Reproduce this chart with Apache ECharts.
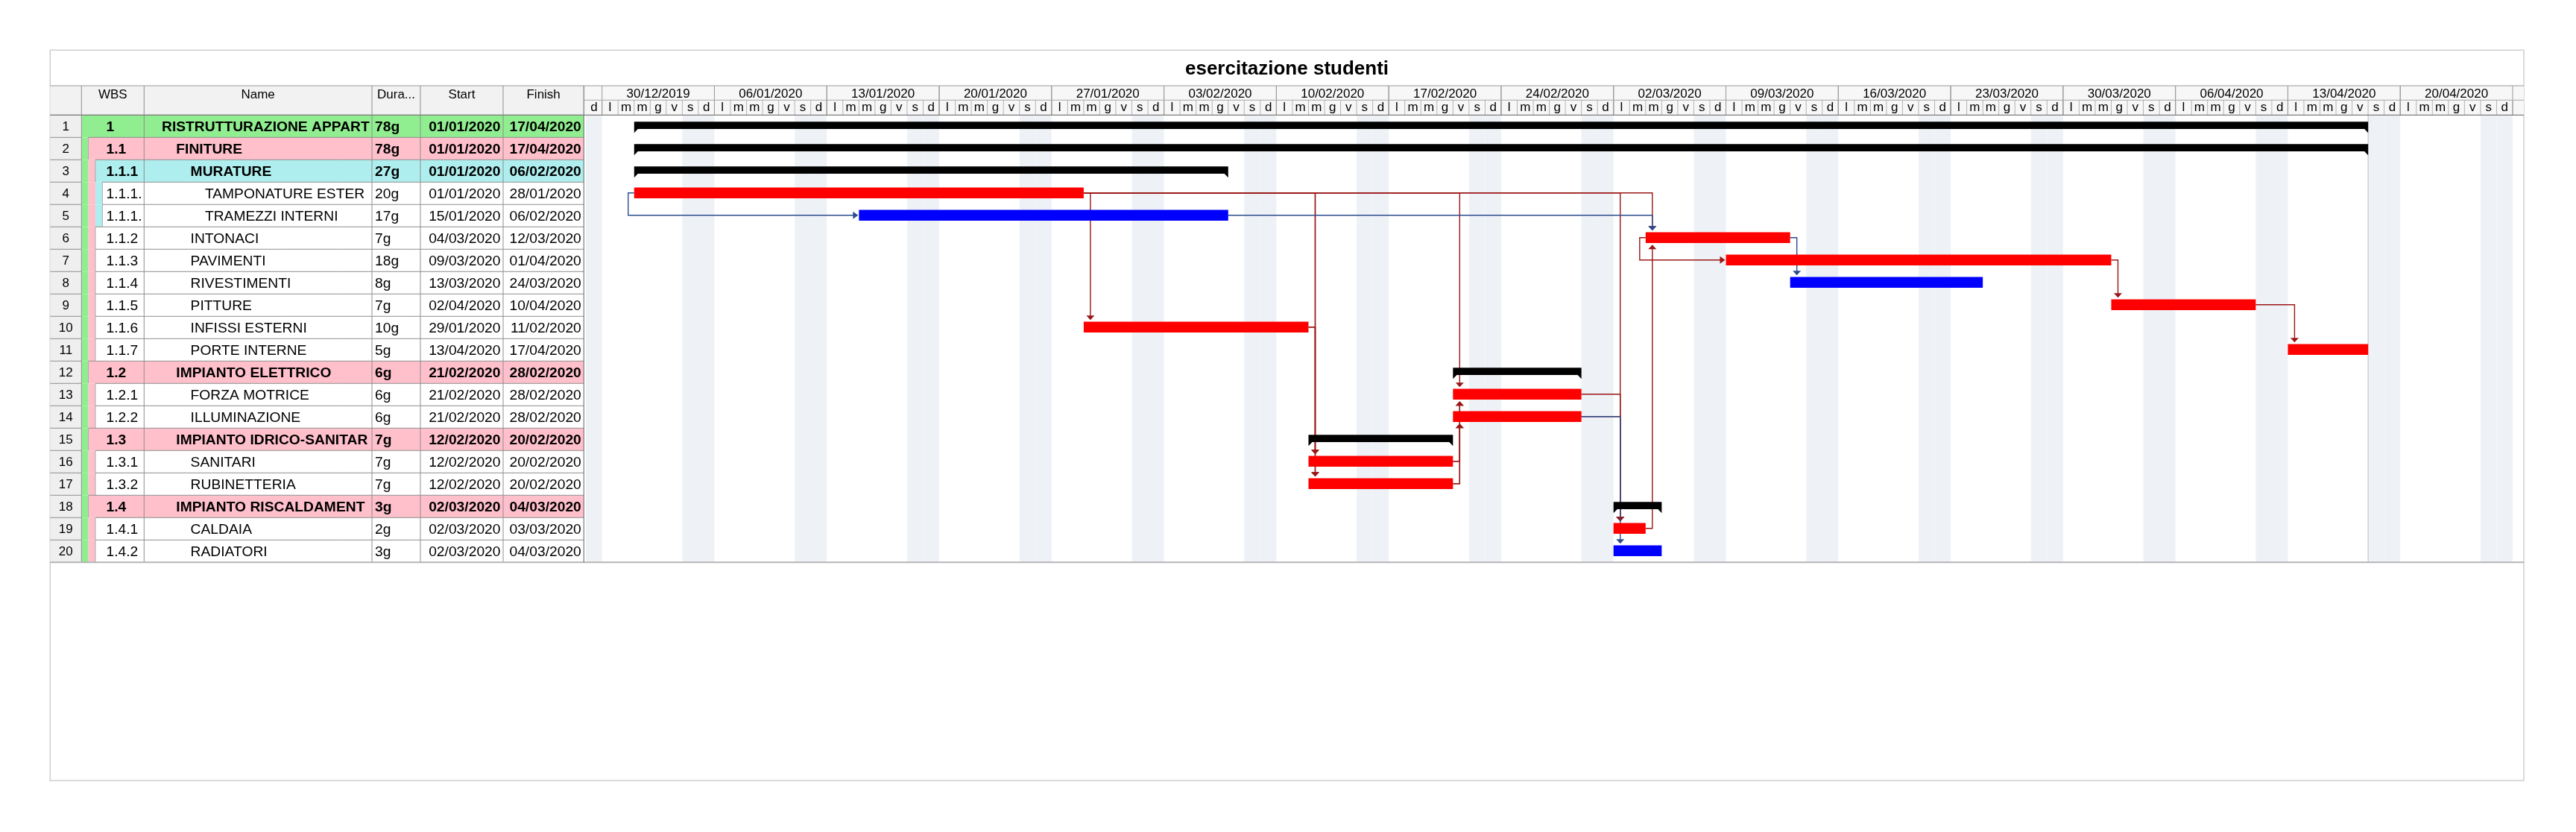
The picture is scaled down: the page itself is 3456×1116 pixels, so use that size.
<!DOCTYPE html>
<html>
<head>
<meta charset="utf-8">
<script src="https://cdn.jsdelivr.net/npm/echarts@6/dist/echarts.min.js"></script>
<style>html,body{margin:0;padding:0;background:#fff}#c{width:3456px;height:1116px}</style>
</head>
<body>
<div id="c"></div>
<script>
// ---------------- DATA ----------------
const chartTitle = 'esercitazione studenti';
const columnHeaders = ['WBS', 'Name', 'Dura...', 'Start', 'Finish'];
const wbsCodes = ['1','1.1','1.1.1','1.1.1.1','1.1.1.2','1.1.2','1.1.3','1.1.4','1.1.5','1.1.6','1.1.7','1.2','1.2.1','1.2.2','1.3','1.3.1','1.3.2','1.4','1.4.1','1.4.2'];
const taskNames = ['RISTRUTTURAZIONE APPARTAMENTO','FINITURE','MURATURE','TAMPONATURE ESTERNE','TRAMEZZI INTERNI','INTONACI','PAVIMENTI','RIVESTIMENTI','PITTURE','INFISSI ESTERNI','PORTE INTERNE','IMPIANTO ELETTRICO','FORZA MOTRICE','ILLUMINAZIONE','IMPIANTO IDRICO-SANITARIO','SANITARI','RUBINETTERIA','IMPIANTO RISCALDAMENTO','CALDAIA','RADIATORI'];
const outlineLevels = [1,2,3,4,4,3,3,3,3,3,3,2,3,3,2,3,3,2,3,3];
const durations = ['78g','78g','27g','20g','17g','7g','18g','8g','7g','10g','5g','6g','6g','6g','7g','7g','7g','3g','2g','3g'];
const startDates = ['01/01/2020','01/01/2020','01/01/2020','01/01/2020','15/01/2020','04/03/2020','09/03/2020','13/03/2020','02/04/2020','29/01/2020','13/04/2020','21/02/2020','21/02/2020','21/02/2020','12/02/2020','12/02/2020','12/02/2020','02/03/2020','02/03/2020','02/03/2020'];
const finishDates = ['17/04/2020','17/04/2020','06/02/2020','28/01/2020','06/02/2020','12/03/2020','01/04/2020','24/03/2020','10/04/2020','11/02/2020','17/04/2020','28/02/2020','28/02/2020','28/02/2020','20/02/2020','20/02/2020','20/02/2020','04/03/2020','03/03/2020','04/03/2020'];
const taskKinds = ['summary','summary','summary','critical','normal','critical','critical','normal','critical','critical','critical','summary','critical','critical','summary','critical','critical','summary','critical','normal'];
const weekLabels = ['30/12/2019','06/01/2020','13/01/2020','20/01/2020','27/01/2020','03/02/2020','10/02/2020','17/02/2020','24/02/2020','02/03/2020','09/03/2020','16/03/2020','23/03/2020','30/03/2020','06/04/2020','13/04/2020','20/04/2020'];
const dayLetters = ['l','m','m','g','v','s','d'];
// [predecessor row, successor row, link type, critical]
const links = [
  [4,5,'SS',false],[4,10,'FS',true],[4,16,'FS',true],[4,17,'FS',true],[4,13,'FS',true],[4,19,'FS',true],[4,6,'FS',true],
  [5,6,'FS',false],[10,16,'FS',true],[10,17,'FS',true],[16,13,'FS',true],[16,14,'FS',true],[17,13,'FS',true],[17,14,'FS',true],
  [13,19,'FS',true],[14,19,'FS',true],[14,20,'FS',false],[19,6,'FS',true],[6,7,'SS',true],[6,8,'FS',false],[7,9,'FS',true],[9,11,'FS',true]
];
const firstHeaderDay = -1, lastHeaderDay = 118;

// ---------------- HELPERS ----------------
const FONT = "'Liberation Sans', Arial, Helvetica, sans-serif";
const BODY = 19.25;
const refUTC = Date.UTC(2019, 11, 30);
function dayIndex(s) {
  const p = s.split('/').map(Number);
  return Math.round((Date.UTC(p[2], p[1] - 1, p[0]) - refUTC) / 86400000);
}
const startIdx = startDates.map(dayIndex);
const finishIdx = finishDates.map(dayIndex);
const weekIdx = weekLabels.map(dayIndex);

const measureCtx = document.createElement('canvas').getContext('2d');
function fitText(s, weight, size, maxW) {
  measureCtx.font = weight + ' ' + size + 'px ' + FONT;
  let t = s;
  while (t.length && measureCtx.measureText(t).width > maxW) t = t.slice(0, -1);
  return t;
}

const G = { left: 783.3, right: 3386, top: 154.3, bot: 754.3 };
const Lc = { rowNumX: 67.3, wbsX: 109.3, nameX: 193.3, durX: 499, startX: 564, finishX: 675, end: 783.3, headTop: 115, headMid: 134.3 };
const STRIP = 9.33;
const levelColors = ['#90ee90', '#ffc0cb', '#afeeee'];
const LINE = '#8e8e8e';
const X_MIN = -1.133, X_MAX = 119.697;

function txt(x, y, s, size, align, extra) {
  return { type: 'text', x: x, y: y, style: Object.assign({
    text: s, fill: '#000', fontFamily: FONT, fontSize: size,
    align: align, textAlign: align, verticalAlign: 'middle', textVerticalAlign: 'middle'
  }, extra || {}) };
}
function rect(x, y, w, h, fill) {
  return { type: 'rect', shape: { x: x, y: y, width: w, height: h }, style: { fill: fill } };
}
function ln(x1, y1, x2, y2, color, w) {
  return { type: 'line', shape: { x1: x1, y1: y1, x2: x2, y2: y2 }, style: { stroke: color, lineWidth: w || 1 } };
}

// ---------------- RENDERERS ----------------
function dayItem(params, api) {
  const d = api.value(0);
  const xa = Math.max(api.coord([d, 0])[0], G.left);
  const xb = api.coord([d + 1, 0])[0];
  const wd = ((d % 7) + 7) % 7;
  const ch = [];
  if (wd >= 5) ch.push(rect(xa, G.top, xb - xa, G.bot - G.top, '#eef2f7'));
  ch.push(ln(xb, Lc.headMid, xb, G.top, '#b4b4b4', 1));
  ch.push(txt((xa + xb) / 2, 144.6, dayLetters[wd], 17, 'center'));
  return { type: 'group', children: ch };
}

function weekItem(params, api) {
  const i = api.value(1);
  const d = weekIdx[i];
  const xa = api.coord([d, 0])[0], xb = api.coord([d + 7, 0])[0];
  return { type: 'group', children: [
    ln(xa, Lc.headTop, xa, G.top, '#9a9a9a', 1),
    ln(xb, Lc.headTop, xb, G.top, '#9a9a9a', 1),
    txt((xa + xb) / 2, 126.4, weekLabels[i], 17, 'center')
  ] };
}

function linkItem(params, api) {
  const lk = links[api.value(0)];
  const pi = lk[0] - 1, si = lk[1] - 1;
  const band = api.size([0, 1])[1];
  const top = r => api.coord([0, r])[1] - band / 2;
  const X = d => api.coord([d, 0])[0];
  const color = lk[3] ? '#9a1616' : '#2b4c8c';
  let pts, arrow;
  if (lk[2] === 'FS') {
    const x0 = X(finishIdx[pi] + 1), y0 = top(pi) + 14.5;
    const xa = X(startIdx[si]) + 9;
    if (si > pi) {
      const tip = top(si) + 5;
      pts = [[x0, y0], [xa, y0], [xa, tip - 4]];
      arrow = [[xa - 5.5, tip - 6], [xa + 5.5, tip - 6], [xa, tip]];
    } else {
      const tip = top(si) + 24;
      pts = [[x0, y0], [xa, y0], [xa, tip + 4]];
      arrow = [[xa - 5.5, tip + 6], [xa + 5.5, tip + 6], [xa, tip]];
    }
  } else {
    const x0 = X(startIdx[pi]), y0 = top(pi) + 14.5;
    const xl = x0 - 8, xt = X(startIdx[si]) - 1, y1 = top(si) + 14.5;
    pts = [[x0, y0], [xl, y0], [xl, y1], [xt - 5, y1]];
    arrow = [[xt - 7, y1 - 5], [xt - 7, y1 + 5], [xt, y1]];
  }
  return { type: 'group', children: [
    { type: 'polyline', shape: { points: pts }, style: { stroke: color, lineWidth: 1.4, fill: null } },
    { type: 'polygon', shape: { points: arrow }, style: { fill: color } }
  ] };
}

function barItem(params, api) {
  const i = api.value(1);
  const band = api.size([0, 1])[1];
  const t = api.coord([0, i])[1] - band / 2;
  const x0 = api.coord([startIdx[i], 0])[0];
  const x1 = api.coord([finishIdx[i] + 1, 0])[0];
  const kind = taskKinds[i];
  const ch = [];
  if (i === 0) ch.push(ln(x1, G.top, x1, G.bot, '#c4c4c4', 1.2));
  if (kind === 'summary') {
    ch.push({ type: 'polygon', shape: { points: [[x0, t + 9], [x1, t + 9], [x1, t + 24], [x1 - 5, t + 18.6], [x0 + 5, t + 18.6], [x0, t + 24]] }, style: { fill: '#000' } });
  } else {
    ch.push(rect(x0, t + 7.3, x1 - x0, 14.5, kind === 'critical' ? '#ff0000' : '#0000ff'));
  }
  return { type: 'group', children: ch };
}

function tableItem(params, api) {
  const i = api.value(1);
  const band = api.size([0, 1])[1];
  const yc = api.coord([0, i])[1];
  const t = yc - band / 2;
  const lvl = outlineLevels[i];
  const isSum = taskKinds[i] === 'summary';
  const ch = [];
  ch.push(rect(Lc.rowNumX, t, Lc.wbsX - Lc.rowNumX, band, '#efefef'));
  for (let k = 0; k < lvl - 1; k++) ch.push(rect(Lc.wbsX + k * STRIP, t, STRIP, band, levelColors[k]));
  const xs = Lc.wbsX + (lvl - 1) * STRIP;
  ch.push(rect(xs, t, Lc.end - xs, band, isSum ? levelColors[lvl - 1] : '#ffffff'));
  ch.push(ln(Lc.rowNumX, t, Lc.wbsX, t, LINE));
  ch.push(ln(xs, t, Lc.end, t, LINE));
  ch.push(ln(Lc.wbsX, t, Lc.wbsX, t + band, LINE));
  if (lvl > 1) ch.push(ln(xs, t, xs, t + band, '#a8a8a8'));
  [Lc.nameX, Lc.durX, Lc.startX, Lc.finishX].forEach(x => ch.push(ln(x, t, x, t + band, LINE)));
  const ty = yc + 1.4;
  const fw = isSum ? 'bold' : 'normal';
  ch.push(txt((Lc.rowNumX + Lc.wbsX) / 2, ty, String(i + 1), 17, 'center'));
  ch.push(txt(142.5, ty, fitText(wbsCodes[i], fw, BODY, Lc.nameX - 142.5 - 0.3), BODY, 'left', { fontWeight: fw }));
  const nx = 217 + 19.3 * (lvl - 1);
  ch.push(txt(nx, ty, fitText(taskNames[i], fw, BODY, Lc.durX - 2.5 - nx), BODY, 'left', { fontWeight: fw }));
  ch.push(txt(503, ty, durations[i], BODY, 'left', { fontWeight: fw }));
  ch.push(txt(Lc.finishX - 3.5, ty, startDates[i], BODY, 'right', { fontWeight: fw }));
  ch.push(txt(Lc.end - 3.5, ty, finishDates[i], BODY, 'right', { fontWeight: fw }));
  return { type: 'group', children: ch };
}

// ---------------- DATA FOR SERIES ----------------
const dayData = [];
for (let d = firstHeaderDay; d <= lastHeaderDay; d++) dayData.push([d, 0]);
const weekData = weekIdx.map((d, i) => [d, i]);
const linkData = links.map((l, i) => [i, 0]);
const rowData = taskNames.map((n, i) => [startIdx[i], i, finishIdx[i]]);

// ---------------- STATIC FRAME ----------------
const headCenters = [
  (Lc.wbsX + Lc.nameX) / 2, (Lc.nameX + Lc.durX) / 2, (Lc.durX + Lc.startX) / 2,
  (Lc.startX + Lc.finishX) / 2, (Lc.finishX + Lc.end) / 2
];
const graphicEls = [
  { type: 'rect', z: 0, shape: { x: 67.3, y: 67.3, width: G.right - 67.3, height: 1047 - 67.3 }, style: { fill: '#ffffff', stroke: '#cfcfcf', lineWidth: 1.5 } },
  { type: 'rect', z: 1, shape: { x: Lc.rowNumX, y: Lc.headTop, width: Lc.end - Lc.rowNumX, height: G.top - Lc.headTop }, style: { fill: '#f2f2f2' } },
  { type: 'rect', z: 1, shape: { x: G.left, y: Lc.headTop, width: G.right - G.left, height: G.top - Lc.headTop }, style: { fill: '#f7f7f7' } },
  { type: 'text', z: 6, style: { text: chartTitle, x: 1726.5, y: 92.7, fill: '#000', fontFamily: FONT, fontSize: 26, fontWeight: 'bold', align: 'center', textAlign: 'center', verticalAlign: 'middle', textVerticalAlign: 'middle' } },
  { type: 'line', z: 6, shape: { x1: 67.3, y1: Lc.headTop, x2: G.right, y2: Lc.headTop }, style: { stroke: '#9a9a9a', lineWidth: 1.2 } },
  { type: 'line', z: 6, shape: { x1: G.left, y1: Lc.headMid, x2: G.right, y2: Lc.headMid }, style: { stroke: '#a8a8a8', lineWidth: 1 } },
  { type: 'line', z: 6, shape: { x1: 67.3, y1: G.top, x2: G.right, y2: G.top }, style: { stroke: '#7e7e7e', lineWidth: 1.2 } },
  { type: 'line', z: 6, shape: { x1: 67.3, y1: G.bot, x2: G.right, y2: G.bot }, style: { stroke: '#b4b4b4', lineWidth: 2 } },
  { type: 'line', z: 6, shape: { x1: G.left, y1: Lc.headTop, x2: G.left, y2: G.bot }, style: { stroke: '#7e7e7e', lineWidth: 1.2 } }
];
[Lc.wbsX, Lc.nameX, Lc.durX, Lc.startX, Lc.finishX].forEach(x => graphicEls.push(
  { type: 'line', z: 6, shape: { x1: x, y1: Lc.headTop, x2: x, y2: G.top }, style: { stroke: LINE, lineWidth: 1 } }));
columnHeaders.forEach((h, k) => graphicEls.push(
  { type: 'text', z: 6, style: { text: h, x: headCenters[k], y: 127.3, fill: '#000', fontFamily: FONT, fontSize: 17, align: 'center', textAlign: 'center', verticalAlign: 'middle', textVerticalAlign: 'middle' } }));

// ---------------- CHART ----------------
const chart = echarts.init(document.getElementById('c'));
chart.setOption({
  animation: false,
  backgroundColor: '#ffffff',
  grid: { left: G.left, right: 3456 - G.right, top: G.top, bottom: 1116 - G.bot, containLabel: false, outerBoundsMode: 'none' },
  xAxis: { type: 'value', min: X_MIN, max: X_MAX, show: false },
  yAxis: { type: 'category', data: wbsCodes, inverse: true, show: false },
  graphic: { elements: graphicEls },
  series: [
    { type: 'custom', name: 'days', z: 2, clip: false, silent: true, renderItem: dayItem, data: dayData },
    { type: 'custom', name: 'weeks', z: 3, clip: false, silent: true, renderItem: weekItem, data: weekData },
    { type: 'custom', name: 'links', z: 3, clip: false, silent: true, renderItem: linkItem, data: linkData },
    { type: 'custom', name: 'bars', z: 4, clip: false, silent: true, renderItem: barItem, data: rowData },
    { type: 'custom', name: 'table', z: 4, clip: false, silent: true, renderItem: tableItem, data: rowData }
  ]
});
</script>
</body>
</html>
